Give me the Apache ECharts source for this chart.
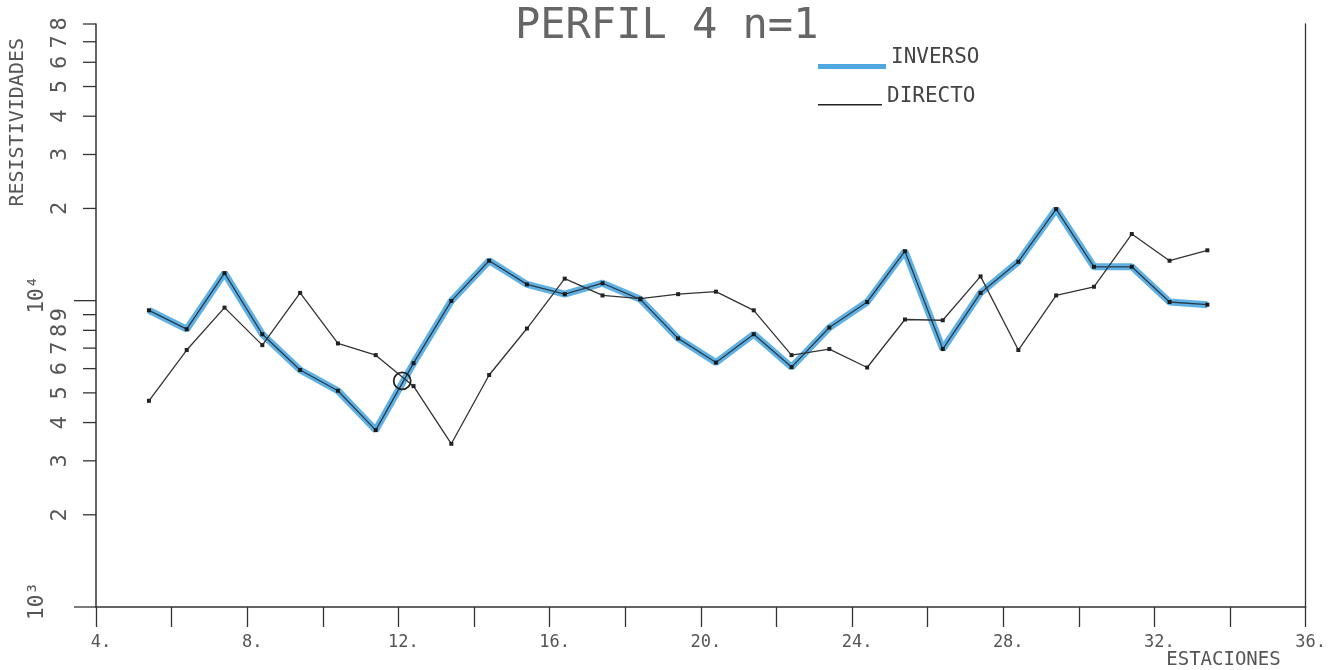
<!DOCTYPE html>
<html>
<head>
<meta charset="utf-8">
<script src="https://cdn.jsdelivr.net/npm/echarts@6/dist/echarts.min.js"></script>
<style>
html,body{margin:0;padding:0;background:#fff;}
#chart{width:1329px;height:670px;}
</style>
</head>
<body>
<div id="chart"></div>
<script>
// ---- data ----
const stations = [5.4, 6.4, 7.4, 8.4, 9.4, 10.4, 11.4, 12.4, 13.4, 14.4, 15.4, 16.4, 17.4, 18.4, 19.4,
                  20.4, 21.4, 22.4, 23.4, 24.4, 25.4, 26.4, 27.4, 28.4, 29.4, 30.4, 31.4, 32.4, 33.4];
const inverso = [9300, 8070, 12300, 7770, 5940, 5080, 3780, 6250, 9980, 13500, 11300, 10500, 11400, 10100, 7530,
                 6280, 7770, 6070, 8170, 9900, 14500, 6950, 10600, 13400, 19900, 12900, 12900, 9900, 9700];
const directo = [4710, 6900, 9490, 7160, 10600, 7250, 6640, 5260, 3410, 5720, 8110, 11800, 10400, 10150, 10500,
                 10700, 9300, 6640, 6950, 6050, 8680, 8630, 12000, 6900, 10400, 11100, 16500, 13500, 14600];
const circleX = [12.1];
const circleY = [5470];
const yTickValues = [1000, 2000, 3000, 4000, 5000, 6000, 7000, 8000, 9000,
                     10000, 20000, 30000, 40000, 50000, 60000, 70000, 80000];
const yTickLabels = ['10\u00b3', '2', '3', '4', '5', '6', '7', '8', '9',
                     '10\u2074', '2', '3', '4', '5', '6', '7', '8'];
const titleText = 'PERFIL 4 n=1';
const xName = 'ESTACIONES';
const yName = 'RESISTIVIDADES';

const MONO = "'DejaVu Sans Mono', 'Liberation Mono', monospace";
const INK = '#333';
const TXT = '#555';

const chart = echarts.init(document.getElementById('chart'));
const pairs = (ys) => stations.map((s, i) => [s, ys[i]]);

const option = {
  animation: false,
  backgroundColor: '#fff',
  title: {
    text: titleText, left: 515, top: 6, padding: 0,
    textStyle: {fontFamily: MONO, fontSize: 42, fontWeight: 'normal', color: '#666'}
  },
  legend: [
    {
      data: [{name: 'INVERSO', icon: 'path://M0,0h.1v.1h-.1z M0,18h68v5h-68z M0,23.9h.1v.1h-.1z'}],
      left: 818, top: 46, padding: 0, itemWidth: 68, itemHeight: 24,
      textStyle: {fontFamily: MONO, fontSize: 21, color: '#444', lineHeight: 24}
    },
    {
      data: [{name: 'DIRECTO', icon: 'path://M0,0h.1v.1h-.1z M0,19h64v1.5h-64z M0,23.9h.1v.1h-.1z'}],
      left: 818, top: 85, padding: 0, itemWidth: 64, itemHeight: 24,
      textStyle: {fontFamily: MONO, fontSize: 21, color: '#444', lineHeight: 24}
    }
  ],
  grid: {left: 96, right: 17, top: 24, bottom: 60, containLabel: false},
  xAxis: {
    type: 'value', min: 4, max: 36, interval: 2,
    name: xName, nameLocation: 'end', nameGap: 0,
    nameTextStyle: {fontFamily: MONO, fontSize: 19, color: TXT, align: 'right', verticalAlign: 'top', padding: [44, 25, 0, 0]},
    axisLine: {show: true, lineStyle: {color: INK, width: 1.5}},
    axisTick: {show: true, inside: false, length: 20, lineStyle: {color: INK, width: 1.3}},
    axisLabel: {
      show: true, margin: 27, fontFamily: MONO, fontSize: 17, color: TXT,
      padding: [0, 0, 0, 10], showMinLabel: true, showMaxLabel: true,
      formatter: (v) => (v % 4 === 0 ? v + '.' : '')
    },
    splitLine: {show: false}
  },
  yAxis: [
    {
      type: 'log', logBase: 10, min: 1000, max: 80000,
      name: yName, nameLocation: 'end', nameRotate: 90, nameGap: -14,
      nameTextStyle: {fontFamily: MONO, fontSize: 20, color: TXT, align: 'right', verticalAlign: 'bottom', padding: [0, 0, 68, 0]},
      axisLine: {show: true, lineStyle: {color: INK, width: 1.5}},
      axisTick: {show: false},
      axisLabel: {show: false},
      splitLine: {show: false}
    },
    {
      type: 'value', position: 'right', min: 0, max: 1,
      axisLine: {show: true, lineStyle: {color: INK, width: 1.3}},
      axisTick: {show: false}, axisLabel: {show: false}, splitLine: {show: false}
    }
  ],
  series: [
    {
      name: 'INVERSO', type: 'line', data: pairs(inverso), color: '#4fa9e0',
      symbol: 'none', lineStyle: {color: '#4fa9e0', width: 7, opacity: 0.9}, z: 1, silent: true
    },
    {
      name: 'DIRECTO', type: 'line', data: pairs(directo), color: INK,
      symbol: 'rect', symbolSize: 4, itemStyle: {color: '#222'},
      lineStyle: {color: INK, width: 1.3}, z: 2, silent: true
    },
    {
      name: 'INVERSO (trazo)', type: 'line', data: pairs(inverso), color: '#222',
      symbol: 'rect', symbolSize: 4, itemStyle: {color: '#1a1a1a'},
      lineStyle: {color: '#2a3a48', width: 1.3}, z: 3, silent: true
    },
    {
      name: 'marca', type: 'scatter', data: circleX.map((x, i) => [x, circleY[i]]),
      symbol: 'circle', symbolSize: 17,
      itemStyle: {color: 'rgba(0,0,0,0)', borderColor: '#222', borderWidth: 1.8, opacity: 1},
      z: 4, silent: true
    },
    {
      name: 'yticks', type: 'custom', clip: false, silent: true, z: 5,
      data: yTickValues.map((v, i) => [4, v, i]),
      renderItem: function (params, api) {
        const v = api.value(1);
        const i = api.value(2);
        const p = api.coord([4, v]);
        const major = Math.abs(Math.log10(v) - Math.round(Math.log10(v))) < 1e-9;
        const len = major ? 22 : 13;
        const children = [{
          type: 'line',
          shape: {x1: p[0] - len, y1: p[1], x2: p[0], y2: p[1]},
          style: {stroke: INK, lineWidth: 1.3}
        }];
        children.push({
          type: 'text',
          x: major ? p[0] - 58 : p[0] - 36,
          y: major ? p[1] - 6 : p[1],
          rotation: Math.PI / 2,
          style: {
            text: yTickLabels[i], fill: TXT,
            font: (major ? '21px ' : '22px ') + MONO,
            align: 'center', verticalAlign: 'middle'
          }
        });
        return {type: 'group', children: children};
      }
    }
  ]
};
chart.setOption(option);
</script>
</body>
</html>
